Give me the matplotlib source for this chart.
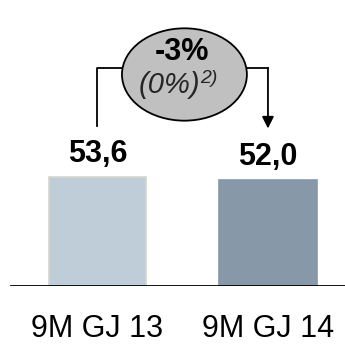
import matplotlib
matplotlib.use('Agg')
import matplotlib.pyplot as plt
from matplotlib.patches import Ellipse

plt.rcParams['font.family'] = ['Liberation Sans', 'DejaVu Sans']

categories = ['9M GJ 13', '9M GJ 14']
values = [53.6, 52.0]
value_labels = ['53,6', '52,0']
change_label = '-3%'
change_note = '(0%)'
change_note_sup = '2)'
colors = ['#BFCDD8', '#8798A8']
edges = ['#D6D6CC', '#8798A8']

fig = plt.figure(figsize=(3.45, 3.49), dpi=100)
ax = fig.add_axes([0, (349 - 286) / 349, 1, 286 / 349])  # baseline sits at 286px from top
ax.set_xlim(-0.572, 1.452)
ax.set_ylim(0, 140.9)

x = list(range(len(categories)))
ax.bar(x, values, width=0.57, color=colors, edgecolor=edges, linewidth=1.2, zorder=2)
ax.axhline(0, xmin=0.032, xmax=1, color='black', linewidth=1.3, zorder=3)

for xi, v, lab in zip(x, values, value_labels):
    ax.text(xi, v + 11.5, lab, ha='center', va='center', fontsize=22, fontweight='bold')

ax.set_xticks(x)
ax.set_xticklabels(categories, fontsize=22)
ax.tick_params(axis='x', length=0, pad=20)
ax.set_yticks([])
for s in ax.spines.values():
    s.set_visible(False)
ax.patch.set_alpha(0)

# bracket with arrow from first to second bar
top = 107.4
ax.plot([0, 0, 0.2], [values[0] + 25.2, top, top], color='black', lw=1.3, zorder=1)
ax.plot([0.85, 1], [top, top], color='black', lw=1.3, zorder=1)
ax.annotate('', xy=(1, values[1] + 25.6), xytext=(1, top),
            arrowprops=dict(arrowstyle='-|>,head_width=0.35,head_length=0.7',
                            color='black', lw=1.3, shrinkA=0, shrinkB=0))

ell = Ellipse((0.51, 104.2), 0.733, 45.5, facecolor='#C0C0C0', edgecolor='black', lw=1.3, zorder=4)
ax.add_patch(ell)
ax.text(0.498, 115.3, change_label, ha='center', va='center', fontsize=22, fontweight='bold', zorder=5)
ax.text(0.601, 99.0, change_note, ha='right', va='center', fontsize=21, style='italic',
        color='#262626', zorder=5)
ax.text(0.603, 102.0, change_note_sup, ha='left', va='center', fontsize=14, style='italic',
        color='#262626', zorder=5)

fig.savefig('out.png', dpi=100)
